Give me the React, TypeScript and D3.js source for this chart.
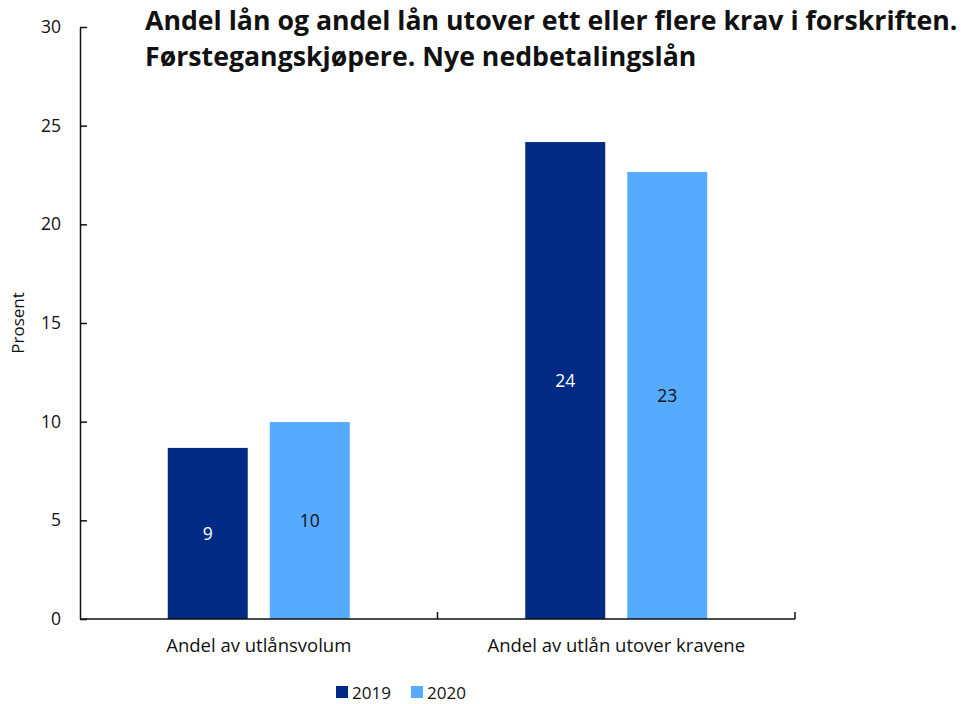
import { useEffect, useRef } from 'react';
import * as d3 from 'd3';

const categories = ['Andel av utlånsvolum', 'Andel av utlån utover kravene'];
const seriesNames = ['2019', '2020'];
const values2019 = [8.67, 24.17];
const values2020 = [9.98, 22.65];
const labels2019 = ['9', '24'];
const labels2020 = ['10', '23'];
const yTicks = [0, 5, 10, 15, 20, 25, 30];
const colors = ['#012a84', '#56aaff'];
const labelColors = ['#ffffff', '#111111'];

const titleLines = [
  'Andel lån og andel lån utover ett eller flere krav i forskriften.',
  'Førstegangskjøpere. Nye nedbetalingslån',
];

export default function App() {
  const svgRef = useRef<SVGSVGElement>(null);

  useEffect(() => {
    if (!svgRef.current) return;
    const svg = d3.select(svgRef.current);
    svg.selectAll('*').remove();

    const font = "'Open Sans', 'Noto Sans', sans-serif";
    const left = 80;
    const right = 795;
    const top = 27;
    const bottom = 619;
    const groupW = 182;

    const x = d3.scaleBand<string>().domain(categories).range([left, right]);
    const y = d3.scaleLinear().domain([0, 30]).range([bottom, top]);
    const inner = d3
      .scaleBand<string>()
      .domain(seriesNames)
      .range([0, groupW])
      .paddingInner(0.216);

    const series = [values2019, values2020];
    const seriesLabels = [labels2019, labels2020];

    // bars + value labels
    series.forEach((vals, si) => {
      const g = svg.append('g');
      vals.forEach((v, ci) => {
        const bx = x(categories[ci])! + (x.bandwidth() - groupW) / 2 + inner(seriesNames[si])!;
        g.append('rect')
          .attr('x', bx)
          .attr('y', y(v))
          .attr('width', inner.bandwidth())
          .attr('height', y(0) - y(v))
          .attr('fill', colors[si]);
        g.append('text')
          .attr('x', bx + inner.bandwidth() / 2)
          .attr('y', (y(v) + y(0)) / 2)
          .attr('dy', '0.35em')
          .attr('text-anchor', 'middle')
          .attr('font-family', font)
          .attr('font-size', 17.5)
          .attr('fill', labelColors[si])
          .text(seriesLabels[si][ci]);
      });
    });

    // y axis
    const yAxis = svg
      .append('g')
      .attr('transform', `translate(${left},0)`)
      .call(
        d3.axisLeft(y).tickValues(yTicks).tickSizeInner(-7).tickSizeOuter(0).tickPadding(19)
      );
    yAxis.selectAll('text').attr('font-family', font).attr('font-size', 17.5).attr('fill', '#111');
    yAxis.selectAll('line, path').attr('stroke', '#111').attr('stroke-width', 1.5);

    // x axis
    const xAxis = svg.append('g');
    xAxis
      .append('line')
      .attr('x1', left)
      .attr('x2', right)
      .attr('y1', y(0))
      .attr('y2', y(0))
      .attr('stroke', '#111')
      .attr('stroke-width', 1.5);
    categories.forEach((c) => {
      const tx = x(c)! + x.bandwidth();
      xAxis
        .append('line')
        .attr('x1', tx)
        .attr('x2', tx)
        .attr('y1', y(0))
        .attr('y2', y(0) - 7)
        .attr('stroke', '#111')
        .attr('stroke-width', 1.5);
      xAxis
        .append('text')
        .attr('x', x(c)! + x.bandwidth() / 2)
        .attr('y', 652)
        .attr('text-anchor', 'middle')
        .attr('font-family', font)
        .attr('font-size', 18.5)
        .attr('fill', '#111')
        .text(c);
    });

    // y label
    svg
      .append('text')
      .attr('transform', `translate(24,${(top + bottom) / 2}) rotate(-90)`)
      .attr('text-anchor', 'middle')
      .attr('font-family', font)
      .attr('font-size', 17)
      .attr('fill', '#111')
      .text('Prosent');

    // title
    titleLines.forEach((t, i) => {
      svg
        .append('text')
        .attr('x', 145)
        .attr('y', 30 + i * 36)
        .attr('font-family', font)
        .attr('font-weight', 700)
        .attr('font-size', 26.7)
        .attr('fill', '#111')
        .text(t);
    });

    // legend
    const legendX = [336, 411];
    seriesNames.forEach((s, i) => {
      svg
        .append('rect')
        .attr('x', legendX[i])
        .attr('y', 686)
        .attr('width', 12)
        .attr('height', 12)
        .attr('fill', colors[i]);
      svg
        .append('text')
        .attr('x', legendX[i] + 16)
        .attr('y', 699)
        .attr('font-family', font)
        .attr('font-size', 17)
        .attr('fill', '#111')
        .text(s);
    });
  }, []);

  return (
    <svg
      ref={svgRef}
      width={963}
      height={704}
      style={{ position: 'absolute', left: 0, top: 0, background: '#fff' }}
    />
  );
}
